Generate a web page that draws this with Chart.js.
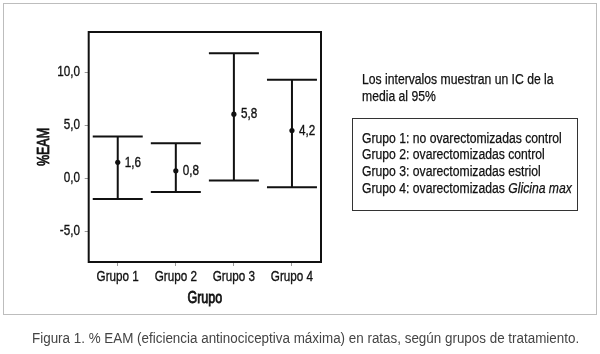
<!DOCTYPE html>
<html>
<head>
<meta charset="utf-8">
<script src="https://cdn.jsdelivr.net/npm/chart.js@4.4.1/dist/chart.umd.min.js"></script>
<style>
  html, body { margin:0; padding:0; background:#fff; }
  #wrap { position:relative; width:600px; height:354px; overflow:hidden; font-family:"Liberation Sans",Arial,sans-serif; }
  #frame { position:absolute; left:3px; top:3px; width:592px; height:310px; border:1.5px solid #bdbdbd; box-sizing:content-box; }
  canvas { position:absolute; left:0; top:0; }
  .t { position:absolute; white-space:nowrap; color:#111; font-size:14px; line-height:17px; transform:scaleX(0.87); transform-origin:0 50%; -webkit-text-stroke:0.25px #111; }
  #box { position:absolute; left:352px; top:118px; width:226px; height:93px; border:1px solid #333; box-sizing:border-box; }
  #caption { position:absolute; left:32px; top:329.5px; font-size:14px; line-height:17px; color:#444; white-space:nowrap; transform:scaleX(0.958); transform-origin:0 50%; }
</style>
</head>
<body>
<div id="wrap">
  <div id="frame"></div>
  <canvas id="c" width="600" height="354"></canvas>
  <div class="t" style="left:362px; top:71px;">Los intervalos muestran un IC de la</div>
  <div class="t" style="left:362px; top:88px;">media al 95%</div>
  <div id="box"></div>
  <div class="t" style="left:362px; top:129.5px;">Grupo 1: no ovarectomizadas control</div>
  <div class="t" style="left:362px; top:146.3px;">Grupo 2: ovarectomizadas control</div>
  <div class="t" style="left:362px; top:163px;">Grupo 3: ovarectomizadas estriol</div>
  <div class="t" style="left:362px; top:179.7px;">Grupo 4: ovarectomizadas <i>Glicina max</i></div>
  <div id="caption">Figura 1. % EAM (eficiencia antinociceptiva máxima) en ratas, según grupos de tratamiento.</div>
</div>
<script>
const categories = ["Grupo 1", "Grupo 2", "Grupo 3", "Grupo 4"];
const means = [1.5, 0.7, 6.05, 4.5];
const upper = [3.95, 3.3, 11.8, 9.3];
const lower = [-1.95, -1.3, -0.2, -0.85];
const meanLabels = ["1,6", "0,8", "5,8", "4,2"];
const yTicks = [-5, 0, 5, 10];

const FONT = '"Liberation Sans",Arial,sans-serif';
const SX = 0.78;      // condensed look of the original typeface

const canvas = document.getElementById('c');
const ctx0 = canvas.getContext('2d');
const origFill = ctx0.fillText.bind(ctx0);
const origStroke = ctx0.strokeText.bind(ctx0);
ctx0.fillText = function (t, x, y, mw) {
  const big = /1[6-9]px/.test(this.font);
  this.save();
  this.translate(x, y);
  this.scale(SX, 1);
  if (mw === undefined || mw === null) origFill(t, 0, 0);
  else origFill(t, 0, 0, mw / SX);
  this.lineWidth = big ? 0.8 : 0.35;
  this.strokeStyle = this.fillStyle;
  origStroke(t, 0, 0);
  this.restore();
};

const errorBars = {
  id: 'errorBars',
  afterDatasetsDraw(chart) {
    const {ctx, scales:{x, y}, chartArea} = chart;
    ctx.save();
    ctx.strokeStyle = '#111';
    ctx.lineWidth = 2;
    ctx.strokeRect(chartArea.left, chartArea.top, chartArea.right - chartArea.left, chartArea.bottom - chartArea.top);
    const cap = 25;
    categories.forEach((c, i) => {
      const px = x.getPixelForValue(i);
      const yt = y.getPixelForValue(upper[i]);
      const yb = y.getPixelForValue(lower[i]);
      ctx.strokeStyle = '#111';
      ctx.lineWidth = 2;
      ctx.beginPath();
      ctx.moveTo(px, yt); ctx.lineTo(px, yb);
      ctx.moveTo(px - cap, yt); ctx.lineTo(px + cap, yt);
      ctx.moveTo(px - cap, yb); ctx.lineTo(px + cap, yb);
      ctx.stroke();
      ctx.fillStyle = '#111';
      ctx.font = '15px ' + FONT;
      ctx.textAlign = 'left';
      ctx.textBaseline = 'middle';
      ctx.fillText(meanLabels[i], px + 7, y.getPixelForValue(means[i]));
    });
    ctx.restore();
  }
};

new Chart(canvas, {
  type: 'line',
  data: {
    labels: categories,
    datasets: [{
      data: means,
      showLine: false,
      pointRadius: 2.6,
      pointBackgroundColor: '#111',
      pointBorderColor: '#111',
      pointBorderWidth: 0
    }]
  },
  options: {
    responsive: false,
    animation: false,
    devicePixelRatio: 1,
    layout: { padding: { left: 30, top: 32, right: 279, bottom: 42 } },
    plugins: { legend: { display: false }, tooltip: { enabled: false } },
    scales: {
      x: {
        type: 'category',
        offset: true,
        grid: { display: true, drawOnChartArea: false, drawTicks: true, tickLength: 4, tickColor: '#999' },
        border: { display: false },
        ticks: { color: '#111', font: { family: FONT, size: 15 }, padding: 1.5, maxRotation: 0, autoSkip: false },
        title: { display: true, text: 'Grupo', color: '#111', font: { family: FONT, size: 16 }, padding: { top: 0, bottom: 3.9 } },
        afterFit(s) { s.height = 50; }
      },
      y: {
        min: -7.9, max: 13.8,
        grid: { display: true, drawOnChartArea: false, drawTicks: true, tickLength: 4, tickColor: '#999' },
        border: { display: false },
        afterBuildTicks(s) { s.ticks = yTicks.map(v => ({ value: v })); },
        ticks: {
          color: '#111', font: { family: FONT, size: 15 }, padding: 4.7,
          callback: v => v.toFixed(1).replace('.', ',')
        },
        title: { display: true, text: '%EAM', color: '#111', font: { family: FONT, size: 16 }, padding: { top: 5.4, bottom: 0 } },
        afterFit(s) { s.width = 58.7; }
      }
    }
  },
  plugins: [errorBars]
});
</script>
</body>
</html>
